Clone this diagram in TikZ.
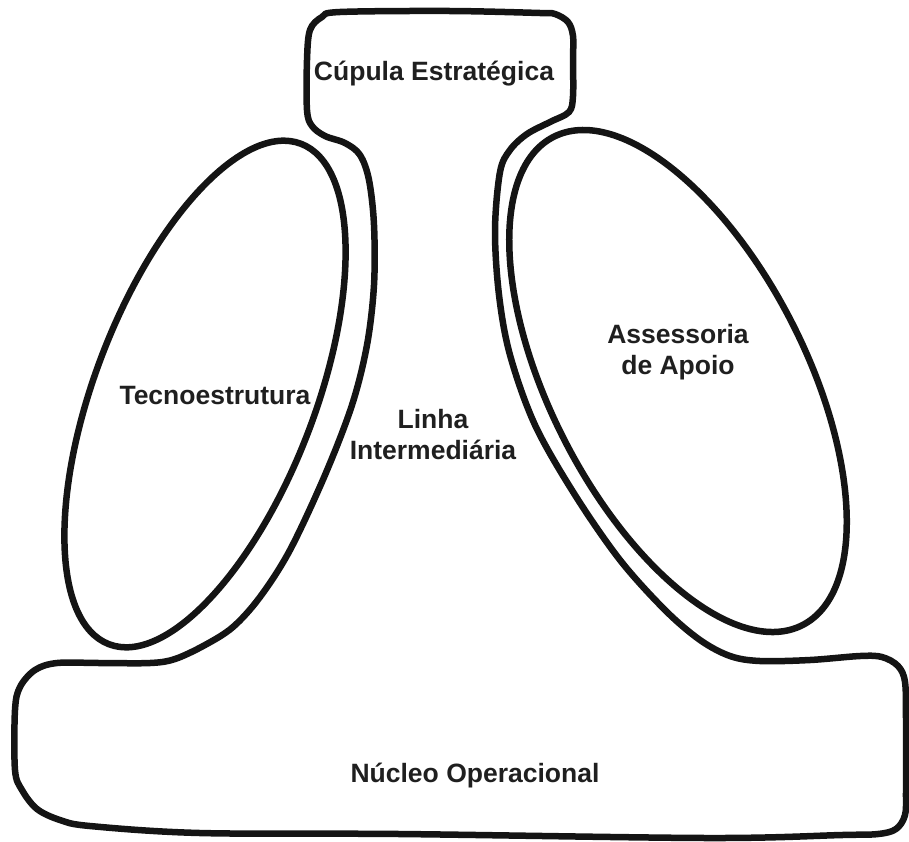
\documentclass[tikz,border=0pt]{standalone}
\usepackage{fontspec}
\setmainfont{Liberation Sans}
\usepackage{tikz}
\usetikzlibrary{positioning}

\begin{document}
\begin{tikzpicture}[
    x=1pt, y=-1pt,
    contorno/.style={line width=6.5pt, draw=black!92, line join=round},
    rotulo/.style={font=\bfseries\fontsize{26.5}{31}\selectfont, align=center, text=black!88, anchor=base, inner sep=0pt}
]
    \useasboundingbox (0,0) rectangle (909,841);

    % contorno externo: cupula, linha intermediaria e nucleo
    \draw[contorno] plot[smooth cycle, tension=0.55] coordinates {
        (340,12) (450,11) (540,13)
        (555,14) (568,22) (573,36)
        (573,60) (573,96)
        (569,112) (550,122) (527,134) (510,150) (500,172)
        (495,230) (499,295) (510,355) (535,425) (575,495) (620,560) (665,610) (700,640) (730,656) (760,661)
        (810,660) (860,656)
        (882,657) (898,666) (905,682)
        (906,720) (906,790)
        (905,815) (896,829) (878,834)
        (842,835) (709,838) (400,834) (200,833) (90,826)
        (60,820) (37,809) (22,790)
        (15,770) (15,710)
        (20,687) (35,670) (57,663)
        (100,663) (150,663)
        (175,659) (205,645) (233,627) (260,597) (290,550) (325,475) (352,405) (367,345) (374,285) (374,225) (369,180)
        (360,155) (345,143) (325,136) (312,126) (307,110)
        (307,60)
        (310,30) (322,17)
    };

    % tecnoestrutura e assessoria de apoio
    \draw[contorno, rotate around={69:(205,394)}] (205,394) ellipse [x radius=268, y radius=110];
    \draw[contorno, rotate around={117:(678,381)}] (678,381) ellipse [x radius=274, y radius=128];

    % rotulos
    \node[rotulo] (cupula) at (434,80) {Cúpula Estratégica};
    \node[rotulo] (tecno) at (215,404) {Tecnoestrutura};
    \node[rotulo] (assessoria) at (678,374) {Assessoria\\de Apoio};
    \node[rotulo] (linha) at (433,459) {Linha\\Intermediária};
    \node[rotulo] (nucleo) at (475,782) {Núcleo Operacional};
\end{tikzpicture}
\end{document}
